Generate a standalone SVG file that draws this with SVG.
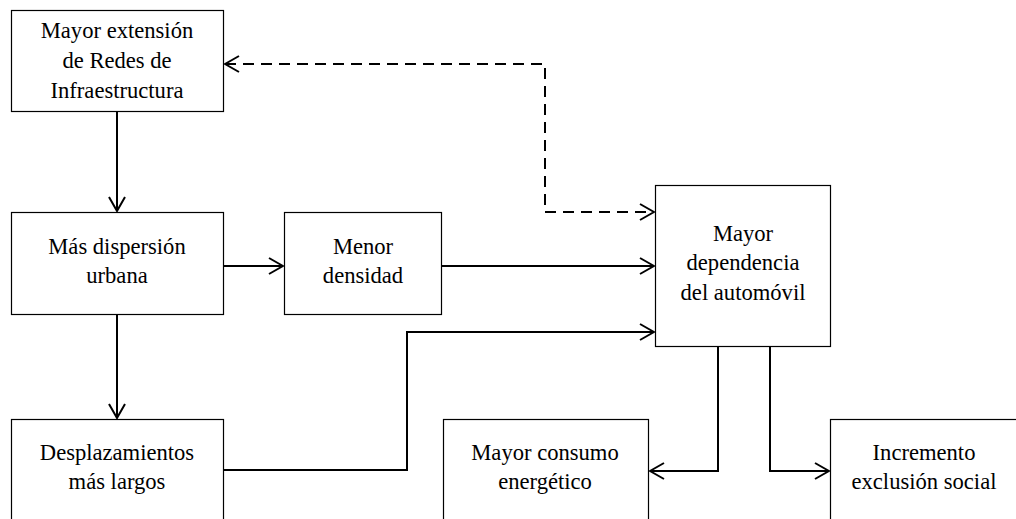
<svg xmlns="http://www.w3.org/2000/svg" width="1016" height="519" viewBox="0 0 1016 519">
<style>
.box{fill:#fff;stroke:#000;stroke-width:1.2}
.t{font-family:"Liberation Serif","Times New Roman",serif;font-size:22.6px;fill:#000;text-anchor:middle}
.c{fill:none;stroke:#000;stroke-width:2}
.d{stroke-dasharray:11 7}
</style>
<defs>
<marker id="a" markerUnits="userSpaceOnUse" viewBox="0 0 16 18" refX="15" refY="9" markerWidth="16" markerHeight="18" orient="auto-start-reverse">
<path d="M1,1 L15,9 L1,17" fill="none" stroke="#000" stroke-width="2"/>
</marker>
</defs>
<g id="n1"><rect class="box" x="11.5" y="10.5" width="212" height="101"/>
<text class="t" x="117" y="38">Mayor extensión</text><text class="t" x="117" y="68">de Redes de</text><text class="t" x="117" y="98">Infraestructura</text></g>
<g id="n2"><rect class="box" x="11.5" y="212.5" width="212" height="102"/>
<text class="t" x="117" y="254">Más dispersión</text><text class="t" x="117" y="283">urbana</text></g>
<g id="n3"><rect class="box" x="284.5" y="212.5" width="157" height="102"/>
<text class="t" x="363" y="254">Menor</text><text class="t" x="363" y="283">densidad</text></g>
<g id="n4"><rect class="box" x="655.5" y="185.5" width="175" height="161"/>
<text class="t" x="743" y="241">Mayor</text><text class="t" x="743" y="270">dependencia</text><text class="t" x="743" y="300">del automóvil</text></g>
<g id="n5"><rect class="box" x="11.5" y="419.5" width="212" height="110"/>
<text class="t" x="117" y="460">Desplazamientos</text><text class="t" x="117" y="489">más largos</text></g>
<g id="n6"><rect class="box" x="443.5" y="419.5" width="205" height="110"/>
<text class="t" x="545" y="460">Mayor consumo</text><text class="t" x="545" y="489">energético</text></g>
<g id="n7"><rect class="box" x="830.5" y="419.5" width="200" height="110"/>
<text class="t" x="924" y="460">Incremento</text><text class="t" x="924" y="489">exclusión social</text></g>
<g id="connectors">
<path class="c" d="M117,112 V211" marker-end="url(#a)"/>
<path class="c" d="M224,266 H283" marker-end="url(#a)"/>
<path class="c" d="M442,266 H654" marker-end="url(#a)"/>
<path class="c" d="M117,315 V418" marker-end="url(#a)"/>
<path class="c" d="M224,470 H407 V332 H654" marker-end="url(#a)"/>
<path class="c d" d="M225,64 H545 V212 H654" marker-start="url(#a)" marker-end="url(#a)"/>
<path class="c" d="M718,347 V471 H650" marker-end="url(#a)"/>
<path class="c" d="M770,347 V471 H829" marker-end="url(#a)"/>
</g>
</svg>
